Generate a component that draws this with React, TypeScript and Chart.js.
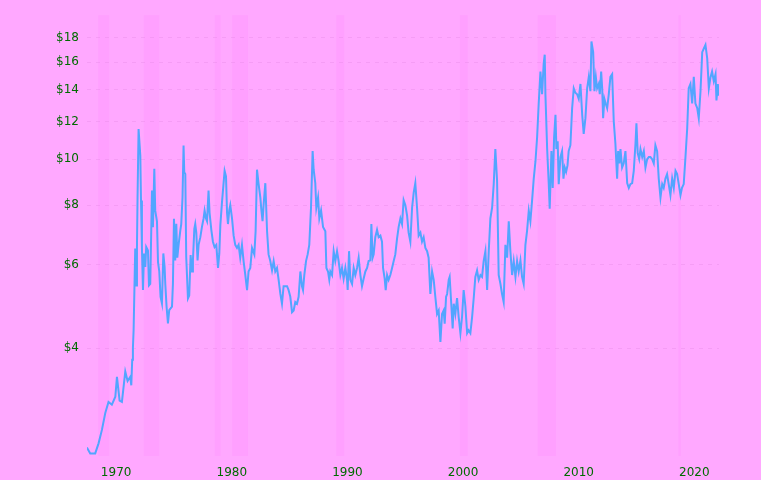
import { useEffect, useRef } from 'react';
import { Chart, registerables } from 'chart.js';

Chart.register(...registerables);

// soybean price (decimal year, dollars)
const years = [
  1968.94, 1969.23, 1969.66, 1969.95, 1970.24, 1970.53, 1970.81, 1971.1, 1971.4, 1971.54, 1971.77, 1971.97,
  1972.26, 1972.46, 1972.69, 1972.78, 1972.86, 1972.92, 1972.98, 1973.12, 1973.21, 1973.27, 1973.32, 1973.41,
  1973.56, 1973.62, 1973.7, 1973.79, 1973.88, 1973.99, 1974.07, 1974.22, 1974.31, 1974.42, 1974.57, 1974.65,
  1974.77, 1974.85, 1975.0, 1975.09, 1975.2, 1975.31, 1975.43, 1975.55, 1975.66, 1975.72, 1975.83, 1975.95,
  1976.06, 1976.3, 1976.38, 1976.47, 1976.58, 1976.67, 1976.76, 1976.87, 1977.02, 1977.1, 1977.21, 1977.3,
  1977.36, 1977.45, 1977.53, 1977.68, 1977.79, 1977.91, 1978.03, 1978.11, 1978.23, 1978.31, 1978.4, 1978.51,
  1978.6, 1978.75, 1978.89, 1979.03, 1979.12, 1979.24, 1979.33, 1979.46, 1979.55, 1979.7, 1979.84, 1979.98,
  1980.13, 1980.28, 1980.39, 1980.48, 1980.62, 1980.76, 1980.85, 1980.97, 1981.06, 1981.14, 1981.25, 1981.34,
  1981.49, 1981.63, 1981.77, 1981.92, 1982.06, 1982.2, 1982.35, 1982.49, 1982.64, 1982.79, 1982.92, 1983.07,
  1983.22, 1983.42, 1983.53, 1983.65, 1983.79, 1983.94, 1984.02, 1984.13, 1984.22, 1984.37, 1984.52, 1984.65,
  1984.8, 1984.95, 1985.09, 1985.23, 1985.38, 1985.52, 1985.67, 1985.81, 1985.95, 1986.1, 1986.25, 1986.38,
  1986.53, 1986.68, 1986.82, 1986.96, 1987.11, 1987.25, 1987.4, 1987.54, 1987.63, 1987.74, 1987.89, 1988.03,
  1988.17, 1988.32, 1988.46, 1988.55, 1988.69, 1988.78, 1988.93, 1989.04, 1989.19, 1989.36, 1989.56, 1989.65,
  1989.79, 1989.9, 1989.99, 1990.14, 1990.28, 1990.42, 1990.57, 1990.71, 1990.86, 1991.0, 1991.14, 1991.29,
  1991.44, 1991.49, 1991.61, 1991.72, 1991.87, 1992.01, 1992.15, 1992.3, 1992.44, 1992.59, 1992.73, 1992.87,
  1993.02, 1993.17, 1993.3, 1993.45, 1993.54, 1993.65, 1993.74, 1993.88, 1994.03, 1994.17, 1994.32, 1994.46,
  1994.55, 1994.69, 1994.78, 1994.9, 1995.03, 1995.18, 1995.33, 1995.47, 1995.61, 1995.76, 1995.9, 1996.05,
  1996.19, 1996.33, 1996.48, 1996.63, 1996.76, 1996.91, 1997.06, 1997.2, 1997.34, 1997.49, 1997.63, 1997.78,
  1997.92, 1998.06, 1998.21, 1998.36, 1998.49, 1998.64, 1998.79, 1998.93, 1999.07, 1999.22, 1999.36, 1999.51,
  1999.65, 1999.79, 1999.88, 2000.0, 2000.09, 2000.23, 2000.31, 2000.46, 2000.57, 2000.66, 2000.8, 2000.95,
  2001.09, 2001.24, 2001.38, 2001.52, 2001.67, 2001.82, 2001.95, 2002.1, 2002.25, 2002.39, 2002.53, 2002.68,
  2002.82, 2002.97, 2003.11, 2003.25, 2003.4, 2003.55, 2003.69, 2003.83, 2003.98, 2004.12, 2004.26, 2004.41,
  2004.55, 2004.7, 2004.84, 2004.98, 2005.13, 2005.28, 2005.42, 2005.56, 2005.71, 2005.85, 2006.0, 2006.14,
  2006.28, 2006.43, 2006.57, 2006.71, 2006.86, 2007.0, 2007.15, 2007.29, 2007.44, 2007.58, 2007.73, 2007.87,
  2008.01, 2008.16, 2008.3, 2008.44, 2008.53, 2008.59, 2008.74, 2008.88, 2008.96, 2009.11, 2009.22, 2009.34,
  2009.46, 2009.54, 2009.65, 2009.74, 2009.89, 2010.03, 2010.15, 2010.26, 2010.38, 2010.5, 2010.6, 2010.75,
  2010.9, 2011.04, 2011.18, 2011.33, 2011.47, 2011.62, 2011.77, 2011.9, 2012.05, 2012.2, 2012.34, 2012.48,
  2012.57, 2012.72, 2012.83, 2012.95, 2013.06, 2013.2, 2013.29, 2013.41, 2013.5, 2013.58, 2013.69, 2013.8,
  2013.93, 2014.07, 2014.21, 2014.36, 2014.5, 2014.64, 2014.79, 2014.88, 2014.99, 2015.08, 2015.22, 2015.36,
  2015.51, 2015.66, 2015.8, 2015.94, 2016.09, 2016.23, 2016.38, 2016.46, 2016.57, 2016.7, 2016.81, 2016.96,
  2017.1, 2017.24, 2017.39, 2017.53, 2017.67, 2017.82, 2017.96, 2018.1, 2018.25, 2018.39, 2018.54, 2018.69,
  2018.82, 2018.97, 2019.11, 2019.25, 2019.4, 2019.55, 2019.69, 2019.84, 2019.98, 2020.12, 2020.27, 2020.4,
  2020.55, 2020.7, 2020.85, 2020.98, 2021.13, 2021.28, 2021.42, 2021.56, 2021.72, 2021.85, 2022.0, 2022.15,
  2022.29, 2022.43, 2022.58, 2022.72, 2022.87, 2023.0, 2023.15, 2023.3, 2023.38, 2023.5, 2023.58,
];

const prices = [
  2.47, 2.4, 2.4, 2.52, 2.69, 2.92, 3.08, 3.04, 3.16, 3.48, 3.1, 3.08,
  3.57, 3.41, 3.48, 3.34, 3.78, 4.0, 4.36, 6.48, 5.42, 6.53, 8.26, 11.57,
  10.17, 8.18, 6.49, 5.3, 6.33, 5.93, 6.53, 6.42, 5.42, 5.46, 8.59, 7.19,
  9.54, 7.79, 7.4, 6.07, 5.8, 5.13, 4.97, 6.33, 5.93, 5.46, 4.89, 4.51,
  4.81, 4.89, 5.46, 7.49, 6.12, 7.31, 6.2, 6.6, 7.08, 7.3, 8.31, 10.68,
  9.38, 9.3, 6.22, 5.09, 5.16, 6.28, 5.8, 6.12, 7.13, 7.3, 7.0, 6.12,
  6.6, 6.85, 7.2, 7.5, 7.79, 7.5, 7.4, 8.59, 7.7, 7.1, 6.7, 6.53,
  6.6, 5.9, 6.33, 7.26, 8.1, 8.9, 9.45, 9.2, 7.7, 7.3, 7.8, 8.0,
  7.5, 6.9, 6.6, 6.5, 6.6, 6.2, 6.6, 6.1, 5.7, 5.3, 5.8, 5.9,
  6.5, 6.3, 7.05, 9.5, 8.86, 8.3, 7.86, 7.4, 8.0, 8.9, 7.05, 6.3,
  6.1, 5.83, 6.1, 5.8, 5.9, 5.57, 5.2, 4.96, 5.4, 5.4, 5.4, 5.3,
  5.13, 4.76, 4.8, 5.0, 4.96, 5.13, 5.8, 5.4, 5.3, 5.7, 6.1, 6.3,
  6.6, 7.9, 10.4, 9.5, 8.9, 7.9, 8.3, 7.5, 7.8, 7.2, 7.05, 5.9,
  5.8, 5.57, 5.8, 5.7, 6.4, 6.1, 6.4, 6.1, 5.7, 5.9, 5.6, 5.9,
  5.57, 5.3, 6.4, 5.57, 5.46, 5.9, 5.7, 5.9, 6.2, 5.7, 5.4, 5.6,
  5.8, 5.9, 6.1, 6.12, 7.3, 6.2, 6.3, 6.85, 7.1, 6.85, 6.9, 6.7,
  5.9, 5.6, 5.3, 5.7, 5.57, 5.7, 5.9, 6.1, 6.3, 6.8, 7.2, 7.5,
  7.3, 8.2, 8.0, 7.6, 7.0, 6.7, 7.9, 8.5, 8.9, 7.9, 6.9, 7.0,
  6.7, 6.85, 6.5, 6.4, 6.2, 5.2, 5.8, 5.57, 5.13, 4.72, 4.8, 4.12,
  4.72, 4.8, 4.5, 5.13, 5.2, 5.57, 5.65, 4.9, 4.4, 4.96, 4.72, 5.1,
  4.65, 4.3, 4.65, 5.3, 4.9, 4.3, 4.36, 4.3, 4.65, 5.1, 5.65, 5.83,
  5.57, 5.7, 5.65, 6.1, 6.4, 5.3, 6.4, 7.5, 7.9, 8.86, 10.5, 9.0,
  5.7, 5.46, 5.2, 5.0, 6.6, 6.2, 7.4, 6.4, 5.7, 6.1, 5.65, 6.1,
  5.8, 6.12, 5.65, 5.46, 6.6, 7.05, 7.79, 7.4, 8.2, 9.1, 9.9, 11.1,
  13.1, 15.3, 13.7, 15.9, 16.6, 13.7, 10.5, 8.86, 7.86, 10.4, 8.7, 11.1,
  12.4, 10.5, 10.9, 8.86, 10.1, 10.4, 9.1, 9.6, 9.4, 9.7, 10.4, 10.7,
  12.8, 14.1, 13.8, 13.7, 13.4, 14.4, 12.4, 11.3, 12.2, 14.1, 14.9, 13.9,
  17.7, 16.8, 13.9, 14.9, 14.1, 14.4, 13.7, 15.3, 14.1, 12.2, 13.4, 13.1,
  12.8, 13.7, 14.9, 15.1, 12.0, 10.8, 9.1, 10.4, 9.8, 10.5, 9.6, 9.8,
  10.4, 8.9, 8.7, 8.86, 8.9, 9.45, 10.8, 11.9, 10.3, 10.0, 10.5, 10.1,
  10.4, 9.6, 10.0, 10.1, 10.1, 10.0, 9.8, 10.7, 10.4, 9.1, 8.3, 8.86,
  8.7, 9.1, 9.3, 8.86, 8.4, 9.1, 8.7, 9.45, 9.3, 8.86, 8.4, 8.7,
  8.86, 10.1, 11.6, 14.1, 14.4, 13.1, 14.9, 13.1, 12.8, 12.2, 13.9, 16.8,
  17.1, 17.4, 16.3, 14.1, 14.9, 15.3, 14.6, 15.1, 13.3, 14.4, 13.6,
];

// US recessions shaded behind the line
const recessionStarts = [1969.92, 1973.87, 1980.0, 1981.5, 1990.5, 2001.2, 2007.92, 2020.1];
const recessionEnds = [1970.87, 1975.2, 1980.5, 1982.87, 1991.2, 2001.87, 2009.5, 2020.3];

const xTickYears = [1970, 1980, 1990, 2000, 2010, 2020];
const xTickLabels = ['1970', '1980', '1990', '2000', '2010', '2020'];
const yTickValues = [4, 6, 8, 10, 12, 14, 16, 18];

const BG = '#ffa8ff';
const BAND = '#ffa0ff';
const TEXT = '#006a00';

const backdrop = {
  id: 'backdrop',
  beforeDraw(chart: Chart) {
    const { ctx, chartArea, scales } = chart;
    ctx.save();
    ctx.fillStyle = BG;
    ctx.fillRect(0, 0, chart.width, chart.height);
    ctx.fillStyle = BAND;
    const x = scales.x;
    recessionStarts.forEach((s, i) => {
      const x0 = x.getPixelForValue(s);
      const x1 = x.getPixelForValue(recessionEnds[i]);
      ctx.fillRect(x0, chartArea.top, Math.max(1, x1 - x0), chartArea.bottom - chartArea.top);
    });
    ctx.restore();
  },
};

export default function App() {
  const canvasRef = useRef<HTMLCanvasElement>(null);

  useEffect(() => {
    document.body.style.margin = '0';
    if (!canvasRef.current) return;

    const chart = new Chart(canvasRef.current, {
      type: 'line',
      data: {
        datasets: [{
          data: years.map((yr, i) => ({ x: yr, y: prices[i] })),
          borderColor: '#52a5ff',
          borderWidth: 2,
          pointRadius: 0,
          tension: 0,
        }],
      },
      options: {
        animation: false,
        responsive: true,
        maintainAspectRatio: false,
        layout: { padding: { top: 14, right: 42, left: 0, bottom: 0 } },
        plugins: {
          legend: { display: false },
          tooltip: { enabled: false },
        },
        scales: {
          x: {
            type: 'linear',
            min: 1968.95,
            max: 2023.6,
            grid: { display: false },
            border: { display: false },
            afterBuildTicks: (axis) => { axis.ticks = xTickYears.map((v) => ({ value: v })); },
            afterFit: (axis) => { axis.height = 24; },
            ticks: {
              color: TEXT,
              font: { family: 'DejaVu Sans', size: 12 },
              padding: 2,
              labelOffset: 17,
              maxRotation: 0,
              callback: (v) => xTickLabels[xTickYears.indexOf(Number(v))] ?? '',
            },
          },
          y: {
            type: 'logarithmic',
            min: 2.37,
            max: 20.1,
            border: { display: false, dash: [4, 5] },
            grid: {
              color: 'rgba(225,135,225,0.35)',
              drawTicks: false,
            },
            afterBuildTicks: (axis) => { axis.ticks = yTickValues.map((v) => ({ value: v })); },
            afterFit: (axis) => { axis.width = 87; },
            ticks: {
              color: TEXT,
              font: { family: 'DejaVu Sans', size: 12 },
              padding: 8,
              callback: (v) => '$' + v,
            },
          },
        },
      },
      plugins: [backdrop],
    });

    return () => chart.destroy();
  }, []);

  return (
    <div style={{ position: 'relative', width: 761, height: 480 }}>
      <canvas ref={canvasRef} />
    </div>
  );
}
